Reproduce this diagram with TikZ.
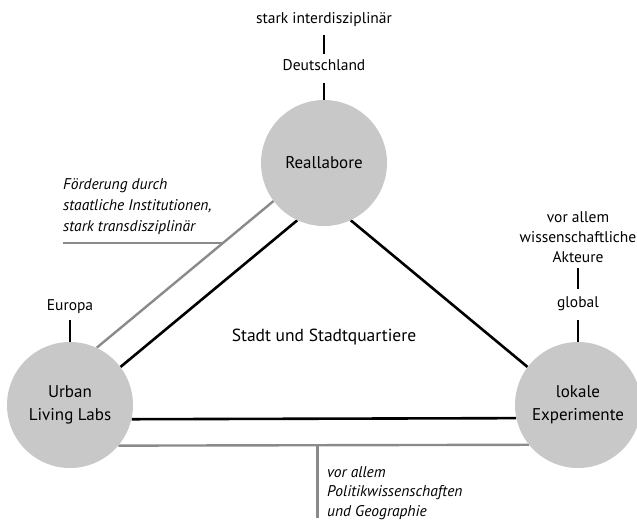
\documentclass[tikz,border=0pt]{standalone}
\usepackage{fontspec}
\setmainfont{PT Sans}
\usetikzlibrary{backgrounds}
\definecolor{circfill}{HTML}{C8C8C8}
\definecolor{linegray}{HTML}{8A8A8A}
\tikzset{
  lab/.style={inner sep=0pt, text height=10.5pt, text depth=3.5pt, font=\fontsize{15.5}{20}\selectfont, align=center},
  itlab/.style={inner sep=0pt, font=\fontsize{15.5}{21}\selectfont\itshape, align=left},
  hub/.style={circle, fill=circfill, minimum size=126pt, inner sep=0pt, font=\fontsize{17}{23}\selectfont, align=center},
  blk/.style={line width=2.6pt, black},
  gry/.style={line width=2.4pt, linegray},
  tick/.style={line width=2.4pt, black},
}
\begin{document}
\begin{tikzpicture}[x=1pt,y=-1pt]
\useasboundingbox (0,0) rectangle (637,520);
% hubs
\node[hub] (R) at (324,163) {Reallabore};
\node[hub] (U) at (70,405) {Urban\\Living Labs};
\node[hub] (L) at (578,405) {lokale\\Experimente};
% labels
\node[lab] (t1) at (324,20) {stark interdisziplinär};
\node[lab] (t2) at (324,67) {Deutschland};
\node[lab, anchor=south, text height=, text depth=] (a) at (578,263) {vor allem\\wissenschaftliche\\Akteure};
\node[lab] (g) at (578,304) {global};
\node[lab] (E) at (70,307) {Europa};
\node[lab, font=\fontsize{17.5}{23}\selectfont] (S) at (324,338) {Stadt und Stadtquartiere};
\node[itlab, anchor=north west] (F) at (63,178) {Förderung durch\\staatliche Institutionen,\\stark transdisziplinär};
\node[itlab, anchor=north west, font=\fontsize{15.5}{19.5}\selectfont\itshape] (P) at (327,466) {vor allem\\Politikwissenschaften\\und Geographie};
% ticks
\draw[tick, shorten <=15pt, shorten >=13pt] (t1.center) -- (t2.center);
\draw[tick, shorten <=16pt] (t2.center) -- (R.north);
\draw[tick, shorten <=5pt, shorten >=15pt] (a.south) -- (g.center);
\draw[tick, shorten <=16pt] (g.center) -- (L.north);
\draw[tick, shorten <=13pt] (E.center) -- (U.north);
% connectors
\begin{scope}[on background layer]
\draw[gry] (R.217) -- (U.65) coordinate[pos=0.286] (gk);
\draw[gry] (gk) -- (gk -| F.west);
\draw[blk] (R.245) -- (U.37);
\draw[blk] (R.295) -- (L.143);
\draw[blk] (U.347.6) -- (L.192.4);
\draw[gry] (U.320.6) -- (L.219.4) coordinate[pos=0.485] (gv);
\coordinate (gvend) at (gv |- 0,518);
\draw[gry] (gv) -- (gvend);
\end{scope}
\end{tikzpicture}
\end{document}
